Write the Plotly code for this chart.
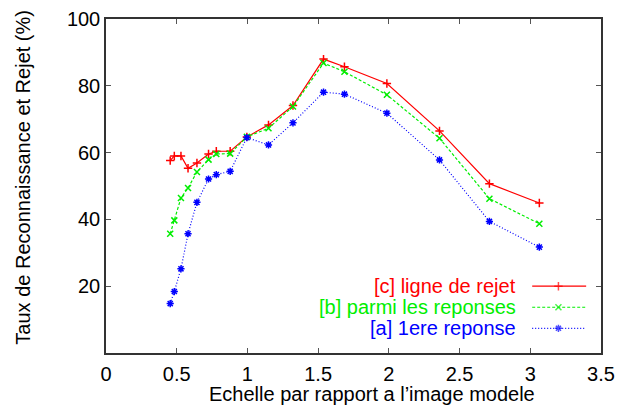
import plotly.graph_objects as go

# echelle (x) et taux (%)
echelle = [0.454, 0.483, 0.530, 0.580, 0.643, 0.725, 0.780, 0.878, 0.996,
           1.149, 1.322, 1.538, 1.686, 1.986, 2.358, 2.711, 3.064]

rejet = [57.6, 59.0, 59.0, 55.3, 56.9, 59.6, 60.4, 60.4, 64.7,
         68.3, 74.1, 88.0, 85.7, 80.7, 66.5, 50.7, 44.9]

parmi = [35.7, 39.7, 46.4, 49.4, 54.2, 57.9, 59.6, 59.7, 64.7,
         67.3, 73.8, 86.8, 84.2, 77.3, 64.3, 46.2, 38.7]

premiere = [14.8, 18.4, 25.2, 35.7, 45.1, 52.1, 53.4, 54.4, 64.5,
            62.3, 68.9, 78.1, 77.5, 71.8, 57.8, 39.4, 31.7]

x_ticks = [0, 0.5, 1, 1.5, 2, 2.5, 3, 3.5]
x_labels = ["0", "0.5", "1", "1.5", "2", "2.5", "3", "3.5"]
y_ticks = [20, 40, 60, 80, 100]

series = [
    ("[c] ligne de rejet", rejet, "#ff0000", "solid", "cross-thin"),
    ("[b] parmi les reponses", parmi, "#00ee00", "3px,2px", "x-thin"),
    ("[a] 1ere reponse", premiere, "#0000ff", "1px,2px", "asterisk-open"),
]

FONT = "Liberation Sans, Arial, sans-serif"
FS = 20

fig = go.Figure()

for name, vals, color, dash, sym in series:
    fig.add_trace(go.Scatter(
        x=echelle,
        y=vals,
        mode="lines+markers",
        name=name,
        showlegend=False,
        line=dict(color=color, width=1.2, dash=dash),
        marker=dict(symbol=sym, size=6, color=color,
                    line=dict(width=1.5, color=color))
    ))

# legende a la gnuplot : texte a gauche, echantillon a droite
leg_y = [0.200, 0.137, 0.074]
for (name, vals, color, dash, sym), yy in zip(series, leg_y):
    fig.add_trace(go.Scatter(
        x=[0.861, 0.914, 0.970],
        y=[yy, yy, yy],
        xaxis="x2",
        yaxis="y2",
        mode="lines+markers",
        showlegend=False,
        hoverinfo="skip",
        line=dict(color=color, width=1.2, dash=dash),
        marker=dict(symbol=sym, size=[0, 6, 0], color=color,
                    line=dict(width=1.5, color=color))
    ))
    fig.add_annotation(
        x=0.832, y=yy, xref="paper", yref="paper",
        text=name, showarrow=False, xanchor="right", yanchor="middle",
        font=dict(family=FONT, size=FS, color=color)
    )

# titres des axes
fig.add_annotation(
    x=0.537, y=-0.123, xref="paper", yref="paper",
    text="Echelle par rapport a l’image modele", showarrow=False,
    xanchor="center", yanchor="middle", font=dict(family=FONT, size=FS)
)
fig.add_annotation(
    x=-0.167, y=0.526, xref="paper", yref="paper", textangle=-90,
    text="Taux de Reconnaissance et Rejet (%)", showarrow=False,
    xanchor="center", yanchor="middle", font=dict(family=FONT, size=FS)
)

fig.update_layout(
    width=617,
    height=406,
    margin=dict(l=106, r=16, t=19, b=53),
    paper_bgcolor="white",
    plot_bgcolor="white",
    font=dict(family=FONT, size=FS, color="black"),
    xaxis=dict(
        range=[0, 3.5],
        tickvals=x_ticks,
        ticktext=x_labels,
        ticks="inside", ticklen=5, tickcolor="#555",
        ticklabelstandoff=2,
        showgrid=False, zeroline=False, automargin=False,
        showline=True, linecolor="#333", linewidth=1.5, mirror="allticks",
    ),
    yaxis=dict(
        range=[0, 100],
        tickvals=y_ticks,
        ticks="inside", ticklen=5, tickcolor="#555",
        showgrid=False, zeroline=False, automargin=False,
        showline=True, linecolor="#333", linewidth=1.5, mirror="allticks",
    ),
    xaxis2=dict(overlaying="x", range=[0, 1], visible=False),
    yaxis2=dict(overlaying="y", range=[0, 1], visible=False),
)

fig.write_html(
    "out.html",
    config={"displayModeBar": False},
    post_script="document.body.style.margin='0px';",
)
